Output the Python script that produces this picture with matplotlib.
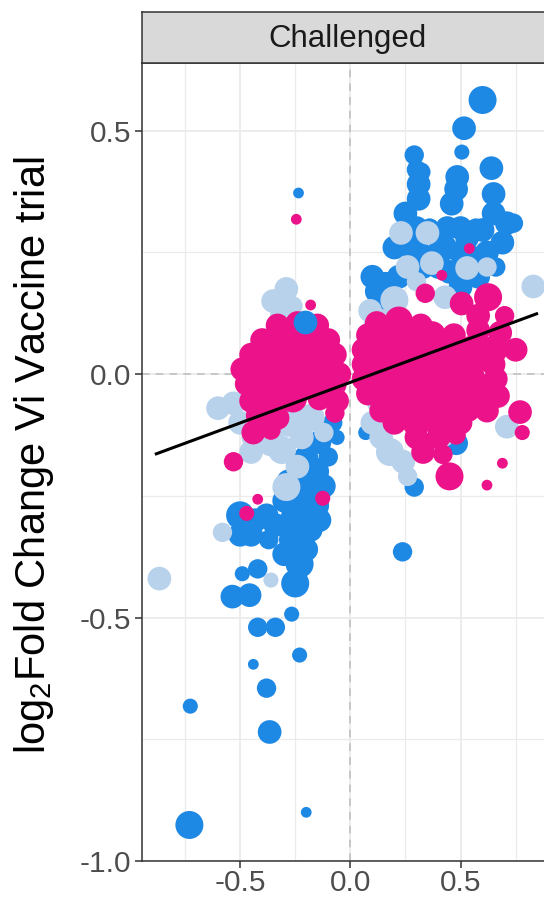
import numpy as np
import matplotlib.pyplot as plt
from matplotlib.ticker import MultipleLocator, FormatStrFormatter

plt.rcParams['font.family'] = ['Liberation Sans', 'DejaVu Sans']
plt.rcParams['mathtext.fontset'] = 'custom'
plt.rcParams['mathtext.rm'] = 'Liberation Sans'
plt.rcParams['mathtext.default'] = 'regular'
plt.rcParams['axes.unicode_minus'] = False

# genes significant in both trials
blue_x = [-0.235, -0.08, -0.06, -0.14, -0.10, -0.20, -0.16, -0.24, -0.12,
          -0.21, -0.30, -0.16, -0.25, -0.50, -0.43, -0.34, -0.18, -0.26, -0.20,
          -0.37, -0.30, -0.23, -0.25, -0.49, -0.42, -0.535, -0.457, -0.266, -0.42,
          -0.34, -0.23, -0.44, -0.38, -0.366, -0.726, -0.73, -0.20, -0.45, -0.38,
          -0.50, -0.28, -0.14,
          0.60, 0.516, 0.506, 0.29, 0.64, 0.32, 0.485, 0.65, 0.31, 0.46,
          0.71, 0.27, 0.69, 0.60, 0.255, 0.36, 0.53, 0.20, 0.30, 0.42,
          0.50, 0.62, 0.45, 0.58, 0.22, 0.12, 0.16, 0.14, 0.50, 0.48,
          0.29, 0.237, 0.07, 0.10, 0.74, 0.33, 0.40, 0.55, 0.66, 0.25,
          0.30, 0.50, 0.57, 0.44, 0.65, 0.31, 0.30, 0.48]
blue_y = [0.372, -0.10, -0.13, -0.14, -0.17, -0.17, -0.20, -0.21, -0.23,
          -0.24, -0.26, -0.27, -0.29, -0.29, -0.30, -0.31, -0.32, -0.34, -0.36,
          -0.34, -0.37, -0.39, -0.43, -0.41, -0.40, -0.457, -0.454, -0.493, -0.52,
          -0.52, -0.577, -0.596, -0.645, -0.735, -0.682, -0.926, -0.90, -0.33, -0.29,
          -0.33, -0.22, -0.30,
          0.563, 0.505, 0.456, 0.45, 0.423, 0.415, 0.405, 0.37, 0.36, 0.35,
          0.31, 0.29, 0.27, 0.296, 0.27, 0.30, 0.28, 0.26, 0.25, 0.26,
          0.25, 0.25, 0.21, 0.20, 0.20, 0.17, 0.19, 0.14, 0.179, -0.142,
          -0.232, -0.365, -0.12, 0.20, 0.31, 0.22, 0.22, 0.24, 0.22, 0.33,
          0.30, 0.30, 0.30, 0.30, 0.33, 0.39, 0.42, 0.38]
blue_w = [1, 3, 2, 4, 3, 4, 5, 4, 4,
          5, 4, 5, 5, 5, 4, 4, 4, 5, 4,
          3, 4, 5, 5, 2, 3, 4, 4, 2, 3,
          3, 2, 1, 3, 4, 2, 5, 1, 4, 4,
          4, 4, 4,
          5, 4, 2, 3, 4, 3, 4, 4, 4, 4,
          4, 5, 4, 4, 4, 3, 4, 4, 5, 5,
          4, 4, 4, 4, 4, 4, 3, 3, 4, 4,
          3, 3, 2, 4, 3, 4, 4, 4, 3, 4,
          4, 4, 3, 4, 4, 4, 3, 4]

# genes significant in one trial only
light_x = [-0.29, -0.35, -0.31, -0.26, -0.60, -0.53, -0.50, -0.45, -0.28, -0.18,
           -0.22, -0.12, -0.31, -0.29, -0.45, -0.58, -0.866, -0.36, -0.36, -0.24,
           0.83, 0.20, 0.43, 0.35, 0.26, 0.37, 0.53, 0.125, 0.09, 0.30,
           0.12, 0.10, 0.14, 0.18, 0.24, 0.26, 0.415, 0.71, 0.62, 0.23]
light_y = [0.175, 0.15, 0.12, 0.14, -0.07, -0.06, -0.10, -0.13, -0.10, -0.09,
           -0.13, -0.12, -0.156, -0.232, -0.16, -0.325, -0.42, -0.423, -0.14, -0.19,
           0.18, 0.152, 0.158, 0.29, 0.22, 0.228, 0.218, 0.107, 0.13, 0.19,
           -0.06, -0.10, -0.13, -0.16, -0.18, -0.21, -0.122, -0.108, 0.22, 0.29]
light_w = [4, 4, 4, 3, 4, 4, 4, 3, 5, 5,
           4, 3, 5, 5, 4, 3, 4, 2, 5, 4,
           4, 5, 4, 4, 4, 4, 4, 5, 4, 3,
           3, 4, 4, 5, 4, 3, 5, 4, 3, 4]

# genes not significant
pink_x = [-0.33, -0.24, -0.15,
          -0.40, -0.30, -0.20, -0.10,
          -0.45, -0.36, -0.26, -0.16, -0.07,
          -0.49, -0.40, -0.30, -0.20, -0.10, -0.05,
          -0.47, -0.38, -0.28, -0.18, -0.08,
          -0.45, -0.36, -0.26, -0.14, -0.06,
          -0.42, -0.33, -0.07,
          -0.44, -0.36, -0.53,
          -0.245, -0.18, -0.42, -0.47, -0.125,
          0.12, 0.22, 0.32,
          0.08, 0.17, 0.27, 0.37, 0.47, 0.58, 0.68,
          0.06, 0.15, 0.25, 0.35, 0.45, 0.55, 0.65, 0.75,
          0.06, 0.15, 0.25, 0.35, 0.45, 0.55, 0.65,
          0.06, 0.15, 0.25, 0.35, 0.45, 0.55, 0.66,
          0.08, 0.18, 0.28, 0.38, 0.48, 0.58, 0.67,
          0.14, 0.23, 0.33, 0.43, 0.53, 0.62,
          0.20, 0.30, 0.40, 0.50,
          0.30, 0.40, 0.48,
          0.33, 0.42,
          0.625, 0.505, 0.34, 0.415, 0.58, 0.70,
          0.45, 0.77, 0.78, 0.69, 0.62, 0.54]
pink_y = [0.10, 0.105, 0.10,
          0.07, 0.075, 0.07, 0.07,
          0.04, 0.04, 0.045, 0.04, 0.04,
          0.01, 0.01, 0.01, 0.015, 0.01, 0.0,
          -0.02, -0.025, -0.02, -0.02, -0.02,
          -0.055, -0.055, -0.05, -0.05, -0.055,
          -0.085, -0.09, -0.08,
          -0.12, -0.115, -0.18,
          0.318, 0.142, -0.257, -0.286, -0.255,
          0.105, 0.11, 0.10,
          0.08, 0.08, 0.085, 0.08, 0.08, 0.09, 0.085,
          0.05, 0.05, 0.05, 0.05, 0.05, 0.05, 0.05, 0.05,
          0.02, 0.02, 0.02, 0.02, 0.02, 0.02, 0.02,
          -0.01, -0.01, -0.01, -0.01, -0.01, -0.01, -0.01,
          -0.04, -0.04, -0.04, -0.04, -0.04, -0.04, -0.045,
          -0.075, -0.07, -0.07, -0.07, -0.07, -0.075,
          -0.10, -0.10, -0.10, -0.10,
          -0.13, -0.13, -0.125,
          -0.16, -0.165,
          0.158, 0.145, 0.166, 0.203, 0.12, 0.12,
          -0.21, -0.078, -0.12, -0.183, -0.228, 0.258]
pink_w = [4, 4, 4,
          4, 5, 5, 4,
          4, 5, 5, 5, 4,
          4, 5, 5, 5, 5, 4,
          4, 5, 5, 5, 5,
          4, 5, 5, 4, 4,
          4, 4, 3,
          4, 3, 3,
          1, 1, 1, 2, 2,
          4, 5, 4,
          4, 5, 5, 5, 4, 4, 4,
          4, 5, 5, 5, 5, 5, 5, 4,
          4, 5, 5, 5, 5, 5, 4,
          4, 5, 5, 5, 5, 5, 4,
          4, 5, 5, 5, 5, 5, 4,
          4, 5, 5, 5, 5, 4,
          4, 5, 5, 4,
          4, 4, 3,
          4, 3,
          5, 4, 3, 1, 4, 3,
          5, 4, 2, 1, 1, 1]

# significant genes listed after the non-significant ones
late_blue_x = [-0.207]
late_blue_y = [0.107]
late_blue_w = [4]

# linear fit across all genes
fit_x = [-0.88, 0.845]
fit_slope = 0.1667
fit_intercept = -0.017


def marker_area(w):
    d_px = 6.5 + 4.3 * np.asarray(w, dtype=float)
    return (d_px * 72 / 100) ** 2


fig = plt.figure(figsize=(5.44, 9.01), dpi=100)
W, H = 544, 901
left, right, top, bottom = 142, 552, 63, 861
ax = fig.add_axes([left / W, 1 - bottom / H, (right - left) / W, (bottom - top) / H])

ax.set_xlim(-0.945, 0.915)
ax.set_ylim(-1.0, 0.639)

ax.xaxis.set_major_locator(MultipleLocator(0.5))
ax.xaxis.set_minor_locator(MultipleLocator(0.25))
ax.yaxis.set_major_locator(MultipleLocator(0.5))
ax.yaxis.set_minor_locator(MultipleLocator(0.25))
ax.xaxis.set_major_formatter(FormatStrFormatter('%.1f'))
ax.yaxis.set_major_formatter(FormatStrFormatter('%.1f'))

ax.grid(which='major', color='#EBEBEB', linewidth=1.3, zorder=0)
ax.grid(which='minor', color='#EBEBEB', linewidth=0.9, zorder=0)
ax.set_axisbelow(True)

ax.axhline(0, color='#BDBDBD', linestyle=(0, (5, 4)), linewidth=1.1, zorder=1)
ax.axvline(0, color='#BDBDBD', linestyle=(0, (5, 4)), linewidth=1.1, zorder=1)

ax.scatter(blue_x, blue_y, s=marker_area(blue_w), color='#1E88E5', linewidths=0, zorder=2)
ax.scatter(light_x, light_y, s=marker_area(light_w), color='#B8D2EC', linewidths=0, zorder=3)
ax.scatter(pink_x, pink_y, s=marker_area(pink_w), color='#EC128A', linewidths=0, zorder=4)
ax.scatter(late_blue_x, late_blue_y, s=marker_area(late_blue_w), color='#1E88E5',
           linewidths=0, zorder=4.5)

fx = np.array(fit_x)
ax.plot(fx, fit_intercept + fit_slope * fx, color='black', linewidth=2.2, zorder=5)

for side in ['left', 'bottom', 'top', 'right']:
    ax.spines[side].set_color('#333333')
    ax.spines[side].set_linewidth(1.1)

ax.tick_params(which='major', length=5, width=1.1, color='#333333',
               labelsize=21.5, labelcolor='#4D4D4D', pad=3)
ax.tick_params(axis='x', which='major', pad=1)
ax.tick_params(which='minor', length=0)

ax.set_ylabel(r'log$_{2}$Fold Change Vi Vaccine trial', fontsize=30, color='black')
ax.yaxis.label.set_va('center')
ax.yaxis.set_label_coords((34 - left) / (right - left), (bottom - 455) / (bottom - top))

# facet strip
strip = fig.add_axes([left / W, 1 - top / H, (right - left) / W, (top - 12) / H])
strip.set_facecolor('#D9D9D9')
strip.set_xticks([])
strip.set_yticks([])
for side in strip.spines.values():
    side.set_color('#333333')
    side.set_linewidth(1.1)
strip.text(0.5, 0.48, 'Challenged', ha='center', va='center', fontsize=22.5, color='#1A1A1A')

fig.savefig('out.png', dpi=100)
